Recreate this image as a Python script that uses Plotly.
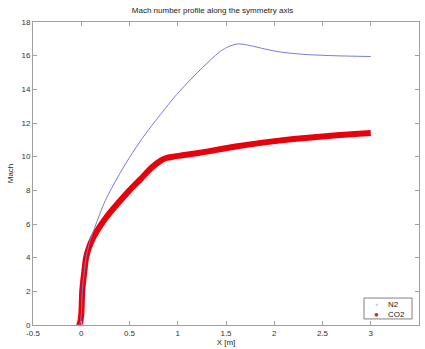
import plotly.graph_objects as go

# N2 profile
n2_x = [-0.05, -0.02, 0.0, 0.01, 0.03, 0.05, 0.09, 0.14, 0.25, 0.38, 0.5, 0.64, 0.82, 0.99,
        1.17, 1.34, 1.44, 1.53, 1.63, 1.75, 1.9, 2.06, 2.3, 2.6, 3.0]
n2_y = [0, 0, 0.6, 2.0, 3.1, 4.0, 5.0, 5.8, 7.4, 8.8, 9.95, 11.15, 12.5, 13.7,
        14.8, 15.75, 16.25, 16.55, 16.7, 16.6, 16.4, 16.22, 16.08, 16.0, 15.95]

# CO2 profile
co2_x = [-0.05, -0.02, 0.0, 0.01, 0.03, 0.05, 0.08, 0.12, 0.18, 0.26, 0.38, 0.5, 0.62, 0.73,
         0.82, 0.88, 0.95, 1.05, 1.3, 1.6, 1.9, 2.2, 2.5, 2.8, 3.0]
co2_y = [0, 0, 0.6, 2.0, 3.1, 4.0, 4.6, 5.15, 5.74, 6.4, 7.23, 8.0, 8.7, 9.35,
         9.75, 9.92, 10.0, 10.08, 10.3, 10.6, 10.85, 11.05, 11.2, 11.33, 11.4]

x_ticks = [-0.5, 0, 0.5, 1, 1.5, 2, 2.5, 3, 3.5]
x_tick_labels = ["-0.5", "0", "0.5", "1", "1.5", "2", "2.5", "3", "3.5"]
y_ticks = [0, 2, 4, 6, 8, 10, 12, 14, 16, 18]
legend_names = ["N2", "CO2"]
legend_colors = ["#a8d8e4", "#d0203a"]

FONT = "Liberation Sans, Arial"

fig = go.Figure()
fig.add_trace(go.Scatter(x=co2_x, y=co2_y, mode="lines", name="CO2",
                         line=dict(color="#e8000b", width=6, shape="spline", smoothing=0.6),
                         showlegend=False, hoverinfo="skip"))
fig.add_trace(go.Scatter(x=n2_x, y=n2_y, mode="lines", name="N2",
                         line=dict(color="#7a7ad8", width=1, shape="spline", smoothing=0.8),
                         showlegend=False, hoverinfo="skip"))

axis_common = dict(showline=True, linecolor="#a0a0a0", linewidth=1, mirror="ticks",
                   ticks="inside", ticklen=4, tickcolor="#a0a0a0", showgrid=False, zeroline=False,
                   tickfont=dict(family=FONT, size=8, color="#333333"))

# compact MATLAB-style legend box (bottom right of the axes)
fig.add_shape(type="rect", xref="paper", yref="paper", x0=0.8575, x1=0.982, y0=0.02, y1=0.089,
              line=dict(color="#808080", width=1), fillcolor="white", layer="above")
legend_y = [0.069, 0.036]
legend_marker_sizes = [5, 8]
for name, color, ly, ms in zip(legend_names, legend_colors, legend_y, legend_marker_sizes):
    fig.add_annotation(xref="paper", yref="paper", x=0.891, y=ly, text="●", showarrow=False,
                       xanchor="center", yanchor="middle", font=dict(family=FONT, size=ms, color=color))
    fig.add_annotation(xref="paper", yref="paper", x=0.915, y=ly, text=name, showarrow=False,
                       xanchor="left", yanchor="middle", font=dict(family=FONT, size=8, color="#222222"))

fig.update_layout(
    width=425, height=349,
    margin=dict(l=33, r=6, t=22, b=24),
    paper_bgcolor="white", plot_bgcolor="white",
    showlegend=False,
    title=dict(text="Mach number profile along the symmetry axis", x=0.5, xanchor="center",
               y=1 - 10 / 349, yanchor="middle",
               font=dict(family=FONT, size=8, color="#222222")),
    xaxis=dict(range=[-0.5, 3.5], tickvals=x_ticks, ticktext=x_tick_labels,
               title=dict(text="X [m]", standoff=0, font=dict(family=FONT, size=8, color="#222222")),
               **axis_common),
    yaxis=dict(range=[0, 18], tickvals=y_ticks,
               title=dict(text="Mach", standoff=6, font=dict(family=FONT, size=8, color="#222222")),
               **axis_common),
)

fig.write_html("out.html", config={"displayModeBar": False},
               post_script="document.body.style.margin='0px';")
